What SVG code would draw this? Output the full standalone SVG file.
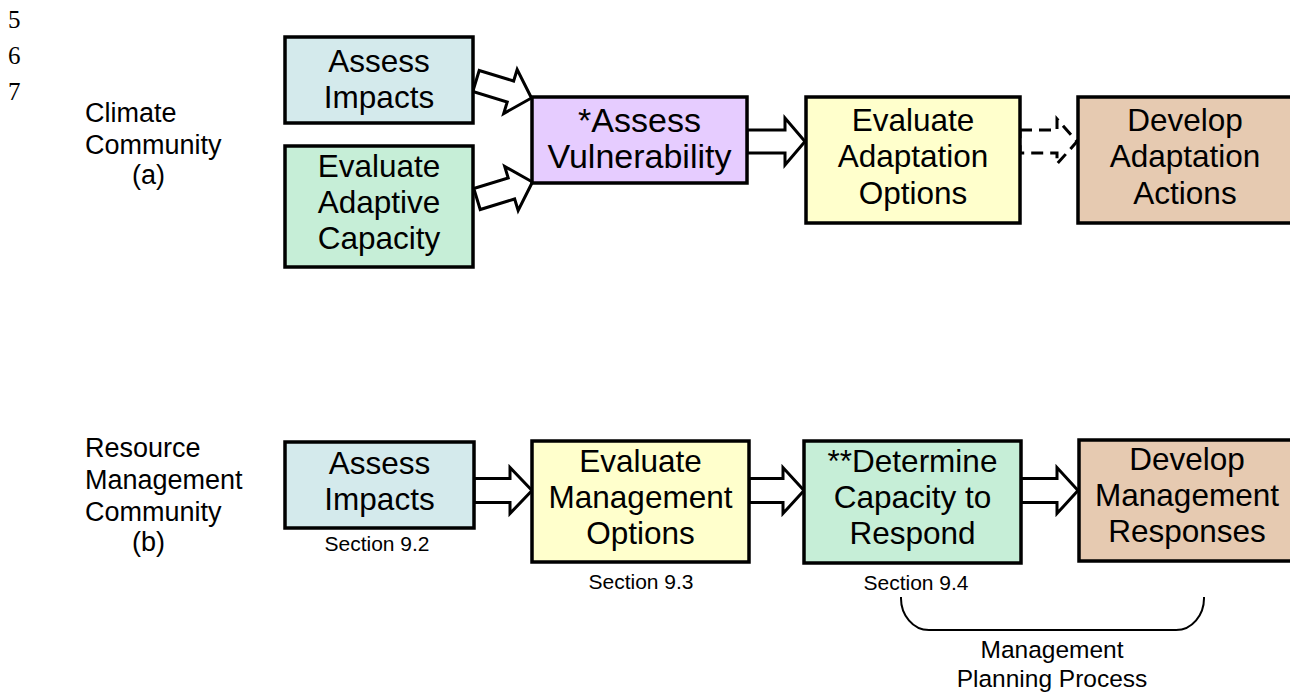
<svg xmlns="http://www.w3.org/2000/svg" width="1290" height="698" viewBox="0 0 1290 698">
<defs>
<style>
.box{stroke:#000;stroke-width:3.5}
.t{font-family:"Liberation Sans",Arial,sans-serif;font-size:31.5px;fill:#000;text-anchor:middle}
.lbl{font-family:"Liberation Sans",Arial,sans-serif;font-size:27px;fill:#000}
.sec{font-family:"Liberation Sans",Arial,sans-serif;font-size:21px;fill:#000;text-anchor:middle}
.mpp{font-family:"Liberation Sans",Arial,sans-serif;font-size:24.5px;fill:#000;text-anchor:middle}
.ln{font-family:"Liberation Serif","Times New Roman",serif;font-size:25px;fill:#000}
.arr{fill:#fff;stroke:#000;stroke-width:3;stroke-linejoin:miter}
.dash{fill:#fff;stroke:#000;stroke-width:3;stroke-dasharray:12 7}
.br{fill:none;stroke:#000;stroke-width:2}
</style>
</defs>
<rect width="1290" height="698" fill="#fff"/>
<g id="line-numbers">
<text class="ln" x="8" y="28">5</text>
<text class="ln" x="8" y="64">6</text>
<text class="ln" x="8" y="100">7</text>
</g>
<g id="label-a">
<text class="lbl" x="85" y="122">Climate</text>
<text class="lbl" x="85" y="154">Community</text>
<text class="lbl" x="132" y="184">(a)</text>
</g>
<g id="label-b">
<text class="lbl" x="85" y="457">Resource</text>
<text class="lbl" x="85" y="489">Management</text>
<text class="lbl" x="85" y="521">Community</text>
<text class="lbl" x="132" y="551">(b)</text>
</g>
<g id="connectors">
<polygon class="arr" transform="translate(476,81) rotate(17)" points="0,-11 36,-11 36,-23 58,0 36,23 36,11 0,11"/>
<polygon class="arr" transform="translate(477,199) rotate(-17)" points="0,-11 36,-11 36,-23 58,0 36,23 36,11 0,11"/>
<polygon class="arr" points="747,130 785,130 785,118 805,141.5 785,165 785,153 747,153"/>
<polygon class="dash" points="1020,130 1057,130 1057,119 1077,141.5 1057,164 1057,153 1020,153"/>
<polygon class="arr" points="474,478.5 510,478.5 510,467.5 532,490.5 510,513.5 510,502.5 474,502.5"/>
<polygon class="arr" points="749,478.5 783,478.5 783,467.5 804,490.5 783,513.5 783,502.5 749,502.5"/>
<polygon class="arr" points="1021,478.5 1057,478.5 1057,467.5 1078,490.5 1057,513.5 1057,502.5 1021,502.5"/>
<path class="br" d="M901,597 A28,32 0 0 0 929,630 H1176 A28,32 0 0 0 1204,597"/>
</g>
<g id="a-assess-impacts">
<rect class="box" x="285" y="37" width="188" height="86" fill="#d4eaec"/>
<text class="t" x="379" y="72">Assess</text>
<text class="t" x="379" y="108">Impacts</text>
</g>
<g id="a-evaluate-adaptive-capacity">
<rect class="box" x="285" y="146" width="188" height="121" fill="#c6eed7"/>
<text class="t" x="379" y="177">Evaluate</text>
<text class="t" x="379" y="213">Adaptive</text>
<text class="t" x="379" y="249">Capacity</text>
</g>
<g id="a-assess-vulnerability">
<rect class="box" x="532" y="97" width="215" height="86" fill="#e6ccff"/>
<text class="t" x="639.5" y="132" style="font-size:34px">*Assess</text>
<text class="t" x="639.5" y="168" style="font-size:34px">Vulnerability</text>
</g>
<g id="a-evaluate-adaptation-options">
<rect class="box" x="806" y="97" width="214" height="126" fill="#ffffcc"/>
<text class="t" x="913" y="131">Evaluate</text>
<text class="t" x="913" y="167">Adaptation</text>
<text class="t" x="913" y="204">Options</text>
</g>
<g id="a-develop-adaptation-actions">
<rect class="box" x="1078" y="97" width="214" height="126" fill="#e6cab1"/>
<text class="t" x="1185" y="131">Develop</text>
<text class="t" x="1185" y="167">Adaptation</text>
<text class="t" x="1185" y="204">Actions</text>
</g>
<g id="b-assess-impacts">
<rect class="box" x="285" y="442" width="189" height="86" fill="#d4eaec"/>
<text class="t" x="379.5" y="474">Assess</text>
<text class="t" x="379.5" y="510">Impacts</text>
<text class="sec" x="377" y="551">Section 9.2</text>
</g>
<g id="b-evaluate-management-options">
<rect class="box" x="532" y="441" width="217" height="121" fill="#ffffcc"/>
<text class="t" x="640.5" y="472">Evaluate</text>
<text class="t" x="640.5" y="508">Management</text>
<text class="t" x="640.5" y="544">Options</text>
<text class="sec" x="641" y="589">Section 9.3</text>
</g>
<g id="b-determine-capacity">
<rect class="box" x="804" y="441" width="217" height="122" fill="#c6eed7"/>
<text class="t" x="912.5" y="472">**Determine</text>
<text class="t" x="912.5" y="508">Capacity to</text>
<text class="t" x="912.5" y="544">Respond</text>
<text class="sec" x="916" y="590">Section 9.4</text>
</g>
<g id="b-develop-management-responses">
<rect class="box" x="1079" y="440" width="216" height="121" fill="#e6cab1"/>
<text class="t" x="1187" y="470">Develop</text>
<text class="t" x="1187" y="506">Management</text>
<text class="t" x="1187" y="542">Responses</text>
</g>
<g id="planning-label">
<text class="mpp" x="1052" y="658">Management</text>
<text class="mpp" x="1052" y="687">Planning Process</text>
</g>
</svg>
